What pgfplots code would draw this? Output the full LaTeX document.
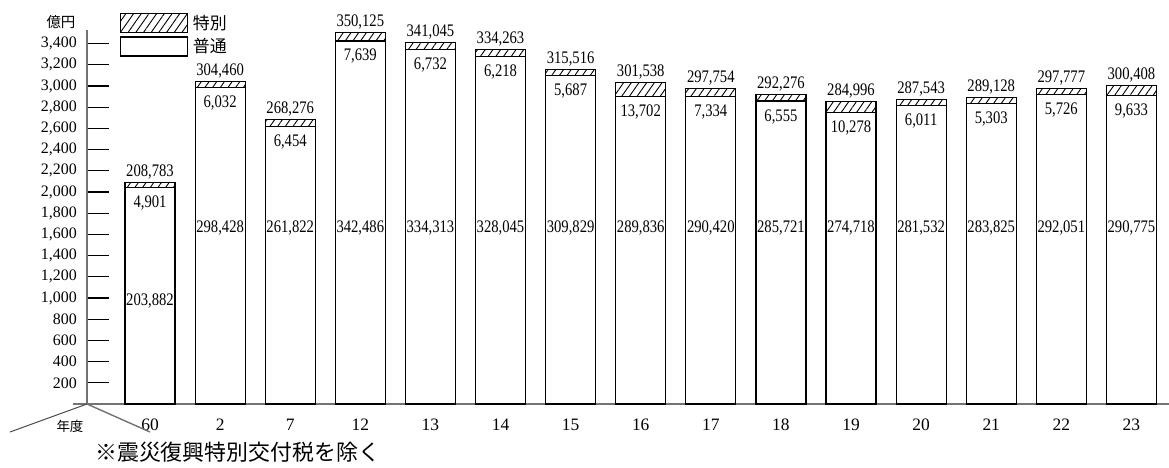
\documentclass[border=0pt]{standalone}
\usepackage{pgfplots}
\pgfplotsset{compat=1.18}
\usepackage{pgfplotstable}
\usetikzlibrary{patterns.meta}
\usepackage{fontspec}
\setmainfont{Liberation Serif}
\newfontfamily\cond{Liberation Serif}[FakeStretch=0.83]
\newfontfamily\cjk{Noto Sans CJK JP}

\pgfplotsset{boxlegend/.style={legend image code/.code={\draw[##1] (0bp,-9.5bp) rectangle (67bp,9.5bp);}}}

\pgfplotstableread{
x reg spe tot totlab spelab reglab regy
0 203882 4901 208783 208,783 4,901 203,882 93300
1 298428 6032 304460 304,460 6,032 298,428 162200
2 261822 6454 268276 268,276 6,454 261,822 162200
3 342486 7639 350125 350,125 7,639 342,486 162200
4 334313 6732 341045 341,045 6,732 334,313 162200
5 328045 6218 334263 334,263 6,218 328,045 162200
6 309829 5687 315516 315,516 5,687 309,829 162200
7 289836 13702 303538 301,538 13,702 289,836 162200
8 290420 7334 297754 297,754 7,334 290,420 162200
9 285721 6555 292276 292,276 6,555 285,721 162200
10 274718 10278 284996 284,996 10,278 274,718 162200
11 281532 6011 287543 287,543 6,011 281,532 162200
12 283825 5303 289128 289,128 5,303 283,825 162200
13 292051 5726 297777 297,777 5,726 292,051 162200
14 290775 9633 300408 300,408 9,633 290,775 162200
}\data

\begin{document}
\begin{tikzpicture}
\useasboundingbox (-87bp,-64bp) rectangle (1082bp,404bp);
\begin{axis}[
  at={(0,0)}, anchor=south west,
  scale only axis, width=1082bp, height=373.9bp,
  xmin=-0.899, xmax=14.536, ymin=0, ymax=352700,
  axis lines*=left,
  axis line style={draw=black!55, line width=1.4bp},
  clip=false,
  scaled y ticks=false,
  xtick={0,...,14},
  xticklabels={60,2,7,12,13,14,15,16,17,18,19,20,21,22,23},
  x tick style={draw=none},
  xticklabel style={font=\fontsize{17.5}{17.5}\selectfont, anchor=base, inner sep=0pt, yshift=-26bp},
  ytick={20000,40000,60000,80000,100000,120000,140000,160000,180000,200000,220000,240000,260000,280000,300000,320000,340000},
  yticklabels={200,400,600,800,{1,000},{1,200},{1,400},{1,600},{1,800},{2,000},{2,200},{2,400},{2,600},{2,800},{3,000},{3,200},{3,400}},
  ytick pos=left,
  tick align=inside,
  major tick length=22bp,
  y tick style={draw=black, line width=1.2bp},
  yticklabel style={font=\fontsize{16}{16}\selectfont, anchor=east, inner sep=0pt, xshift=-10bp},
  legend cell align=left,
  legend style={at={(rel axis cs:0.0305,1.0457)}, anchor=north west, draw=none, fill=none,
    inner sep=0pt, row sep=3bp, column sep=4bp,
    font=\cjk\fontsize{17}{17}\selectfont, nodes={inner sep=0.5bp}},
]
\addplot[ybar, bar width=50bp, bar shift=0pt, draw=black, line width=1.2bp,
  pattern={Lines[angle=55,distance=6.3bp,line width=0.9bp]}, boxlegend]
  table[x=x, y=tot] {\data};
\addlegendentry{特別}
\addplot[ybar, bar width=50bp, bar shift=0pt, draw=black, fill=white, line width=1.2bp, boxlegend]
  table[x=x, y=reg] {\data};
\addlegendentry{普通}
% total labels
\addplot[forget plot, draw=none, mark=none, nodes near coords, point meta=explicit symbolic,
  every node near coord/.append style={anchor=base, inner sep=0pt, yshift=6bp, font=\cond\fontsize{17.7}{17.7}\selectfont}]
  table[x=x, y=tot, meta=totlab] {\data};
% special labels
\addplot[forget plot, draw=none, mark=none, nodes near coords, point meta=explicit symbolic,
  every node near coord/.append style={anchor=base, inner sep=0pt, yshift=-20bp, font=\cond\fontsize{17.7}{17.7}\selectfont}]
  table[x=x, y=reg, meta=spelab] {\data};
% regular labels
\addplot[forget plot, draw=none, mark=none, nodes near coords, point meta=explicit symbolic,
  every node near coord/.append style={anchor=base, inner sep=0pt, font=\cond\fontsize{17.7}{17.7}\selectfont}]
  table[x=x, y=regy, meta=reglab] {\data};
\draw[black!55, line width=1.4bp] (rel axis cs:0,0) -- ++(-77bp,0);
\draw[black!55, line width=1.4bp] (rel axis cs:0,0) -- ++(0,-28bp);
\draw[black!70, line width=1bp] (rel axis cs:0,0) -- ++(-77bp,-28bp);
\end{axis}
\node[font=\cjk\fontsize{13.5}{13.5}\selectfont, inner sep=0pt] at (-17bp,-22bp) {年度};
\node[font=\cjk\fontsize{14.5}{14.5}\selectfont, inner sep=0pt] at (-26bp,382bp) {億円};
\node[font=\cjk\fontsize{22}{22}\selectfont, inner sep=0pt, anchor=west] at (8bp,-48bp) {※震災復興特別交付税を除く};
\end{tikzpicture}
\end{document}
